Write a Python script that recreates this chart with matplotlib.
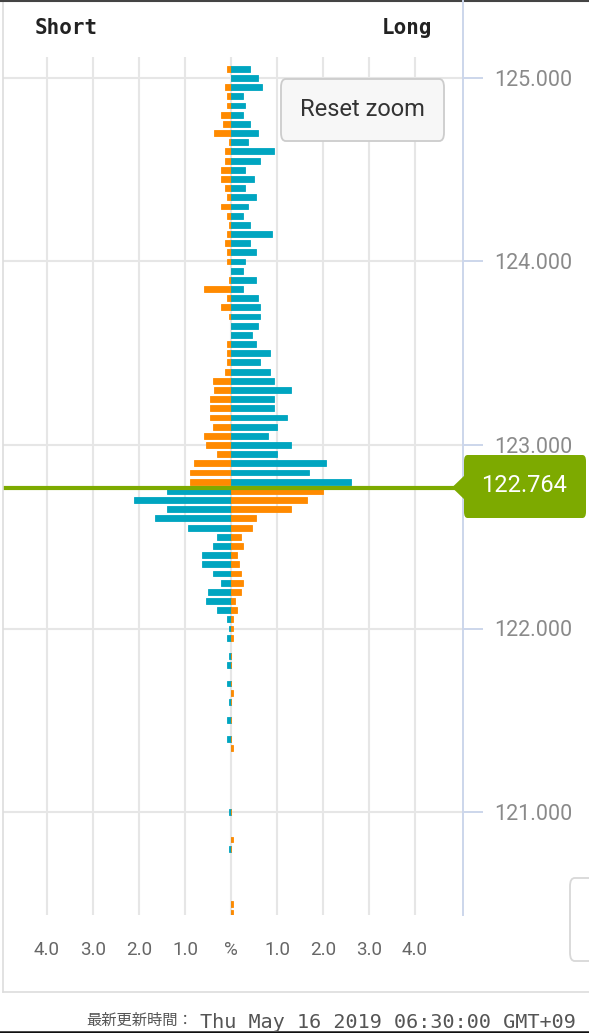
import numpy as np
import matplotlib.pyplot as plt
from matplotlib.patches import FancyBboxPatch, Polygon
from matplotlib.lines import Line2D

'''Order book data (price level, % on left side, % on right side)'''
current_price = 122.764
prices = [125.05, 125.00, 124.95, 124.90, 124.85, 124.80, 124.75, 124.70, 124.65, 124.60,
          124.55, 124.50, 124.45, 124.40, 124.35, 124.30, 124.25, 124.20, 124.15, 124.10,
          124.05, 124.00, 123.95, 123.90, 123.85, 123.80, 123.75, 123.70, 123.65, 123.60,
          123.55, 123.50, 123.45, 123.40, 123.35, 123.30, 123.25, 123.20, 123.15, 123.10,
          123.05, 123.00, 122.95, 122.90, 122.85, 122.80,
          122.75, 122.70, 122.65, 122.60, 122.55, 122.50, 122.45, 122.40, 122.35, 122.30,
          122.25, 122.20, 122.15, 122.10, 122.05, 122.00, 121.95, 121.85, 121.80, 121.70,
          121.65, 121.60, 121.50, 121.40, 121.35, 121.00, 120.85, 120.80, 120.50, 120.45]
left_pct = [0.087, 0.0, 0.13, 0.087, 0.087, 0.22, 0.17, 0.36, 0.04, 0.13,
            0.13, 0.22, 0.22, 0.13, 0.087, 0.22, 0.087, 0.04, 0.087, 0.13,
            0.087, 0.087, 0.0, 0.04, 0.58, 0.087, 0.22, 0.04, 0.0, 0.0,
            0.087, 0.087, 0.087, 0.13, 0.40, 0.36, 0.45, 0.45, 0.45, 0.40,
            0.59, 0.54, 0.30, 0.80, 0.89, 0.89,
            1.39, 2.11, 1.39, 1.65, 0.93, 0.30, 0.40, 0.63, 0.63, 0.40,
            0.22, 0.49, 0.54, 0.31, 0.087, 0.04, 0.087, 0.04, 0.087, 0.087,
            0.0, 0.04, 0.087, 0.087, 0.0, 0.04, 0.0, 0.04, 0.0, 0.0]
right_pct = [0.41, 0.58, 0.67, 0.27, 0.31, 0.27, 0.41, 0.58, 0.36, 0.94,
             0.62, 0.31, 0.49, 0.31, 0.54, 0.36, 0.27, 0.41, 0.89, 0.41,
             0.54, 0.31, 0.27, 0.54, 0.27, 0.58, 0.62, 0.62, 0.58, 0.45,
             0.54, 0.85, 0.62, 0.85, 0.94, 1.30, 0.94, 0.94, 1.22, 0.99,
             0.80, 1.30, 0.99, 2.07, 1.70, 2.61,
             2.01, 1.65, 1.30, 0.54, 0.45, 0.22, 0.26, 0.13, 0.17, 0.22,
             0.26, 0.22, 0.087, 0.13, 0.04, 0.04, 0.04, 0.0, 0.0, 0.0,
             0.04, 0.0, 0.0, 0.0, 0.04, 0.0, 0.04, 0.0, 0.04, 0.04]
x_ticks = [-4, -3, -2, -1, 0, 1, 2, 3, 4]
x_labels = ['4.0', '3.0', '2.0', '1.0', '%', '1.0', '2.0', '3.0', '4.0']
y_ticks = [121, 122, 123, 124, 125]

'''Colours'''
orange = '#ff8a00'
teal = '#00a5c0'
green = '#7daa00'
grid_c = '#e6e6e6'
axis_c = '#ccd6eb'

W, H = 589, 1033
def fx(x): return x / W
def fy(y): return 1 - y / H

fig = plt.figure(figsize=(W / 100, H / 100), dpi=100)

'''Outer frame'''
fig.add_artist(Line2D([fx(3), fx(3)], [fy(0), fy(992)], color='#dddddd', lw=1.2))
fig.add_artist(Line2D([fx(3), 1], [fy(992), fy(992)], color='#dddddd', lw=1.2))
fig.add_artist(Line2D([0, 1], [fy(0.7), fy(0.7)], color='#444444', lw=1.5))
fig.add_artist(Line2D([fx(463), fx(463)], [fy(0), fy(915)], color=axis_c, lw=1.4))

'''Main axes'''
ax = fig.add_axes([fx(3), fy(915), fx(460), 858 / H])
ax.set_xlim(-228 / 46, 232 / 46)
ax.set_ylim(125 - 837 / 183.5, 125 + 21 / 183.5)

p = np.array(prices)
above = p > current_price
left_colors = [orange if a else teal for a in above]
right_colors = [teal if a else orange for a in above]
ax.barh(p, -np.array(left_pct), height=0.032, color=left_colors,
        edgecolor=left_colors, linewidth=0.6, zorder=2)
ax.barh(p, right_pct, height=0.032, color=right_colors,
        edgecolor=right_colors, linewidth=0.6, zorder=2)

ax.axhline(current_price, color=green, lw=3, zorder=4)

for s in ax.spines.values():
    s.set_visible(False)
ax.set_axisbelow(True)
ax.grid(True, color=grid_c, lw=1.5)

ax.set_xticks(x_ticks)
ax.set_xticklabels(x_labels, family='Roboto', fontsize=13.5, color='#666666')
ax.tick_params(axis='x', length=0, pad=19)

ax.yaxis.tick_right()
ax.set_yticks(y_ticks)
ax.set_yticklabels([f'{v:.3f}' for v in y_ticks], family='Roboto', fontsize=15.5, color='#8a8a8a')
ax.tick_params(axis='y', length=14.4, width=1.4, color=axis_c, pad=8)

'''Header'''
fig.text(fx(35), fy(28), 'Short', family='DejaVu Sans Mono', fontweight='bold',
         fontsize=15, color='#222222', va='center', ha='left')
fig.text(fx(432), fy(28), 'Long', family='DejaVu Sans Mono', fontweight='bold',
         fontsize=15, color='#222222', va='center', ha='right')

'''Reset zoom button'''
fig.add_artist(FancyBboxPatch((fx(281), fy(141)), fx(163), 62 / H,
                              boxstyle='round,pad=0,rounding_size=0.008',
                              facecolor='#f7f7f7', edgecolor='#cccccc', lw=1.3,
                              transform=fig.transFigure))
fig.text(fx(362), fy(110), 'Reset zoom', family='Roboto', fontsize=17,
         color='#333333', ha='center', va='center')

'''Current price label'''
fig.add_artist(FancyBboxPatch((fx(464), fy(518)), fx(122), 63 / H,
                              boxstyle='round,pad=0,rounding_size=0.006',
                              facecolor=green, edgecolor='none',
                              transform=fig.transFigure, zorder=5))
fig.add_artist(Polygon([[fx(452), fy(487.5)], [fx(466), fy(474)], [fx(466), fy(501)]],
                       closed=True, facecolor=green, edgecolor='none',
                       transform=fig.transFigure, zorder=5))
fig.text(fx(524), fy(486), f'{current_price:.3f}', family='Roboto', fontsize=17,
         color='white', ha='center', va='center', zorder=6)

'''Card at right edge'''
fig.add_artist(FancyBboxPatch((fx(570), fy(961)), fx(40), 83 / H,
                              boxstyle='round,pad=0,rounding_size=0.008',
                              facecolor='white', edgecolor='#d8d8d8', lw=1.3,
                              transform=fig.transFigure))

'''Footer (runs off the bottom/right edge, as in the screenshot)'''
fig.text(fx(86), fy(1012), '最新更新時間：', family='Noto Sans CJK JP', fontsize=11,
         color='#555555', ha='left', va='top')
fig.text(fx(200), fy(1013), 'Thu May 16 2019 06:30:00 GMT+09', family='DejaVu Sans Mono',
         fontsize=14.5, color='#555555', ha='left', va='top')
fig.add_artist(Line2D([0, 1], [fy(1032), fy(1032)], color='#111111', lw=1.8))

plt.savefig('out.png', dpi=100)
